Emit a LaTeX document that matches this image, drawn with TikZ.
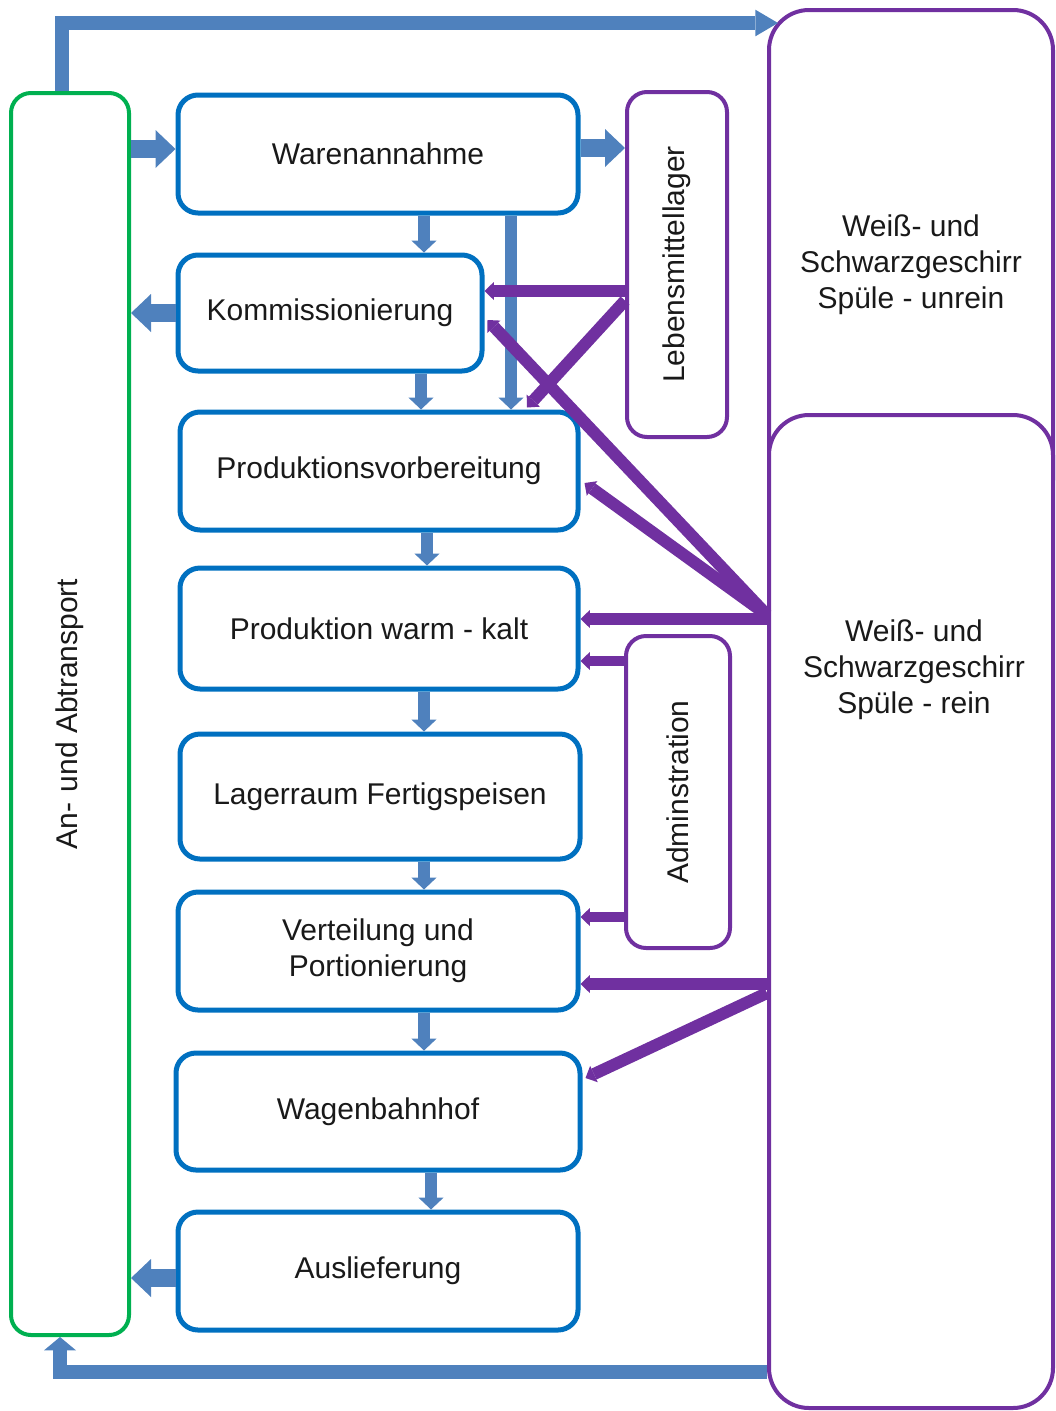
\documentclass[tikz,border=0pt]{standalone}
\usepackage{fontspec}
\setmainfont{Liberation Sans}
\usetikzlibrary{arrows.meta,calc}
\definecolor{boxblue}{RGB}{0,112,192}
\definecolor{arrblue}{RGB}{79,129,189}
\definecolor{vio}{RGB}{112,48,160}
\definecolor{grn}{RGB}{0,176,80}
\definecolor{txt}{RGB}{25,25,25}
\begin{document}
\begin{tikzpicture}[x=0.75pt,y=-0.75pt,
  every node/.style={font=\fontsize{22.5}{27}\selectfont, text=txt, inner sep=0pt, align=center},
  bbox/.style={draw=boxblue, line width=3.75pt, rounded corners=15pt},
  pbox/.style={draw=vio, line width=3pt, rounded corners=15pt},
  bigbox/.style={draw=vio, line width=3pt, rounded corners=30pt},
  gbox/.style={draw=grn, line width=3pt, rounded corners=15pt},
  smallarr/.style={draw=arrblue, line width=9pt, -{Triangle[width=19pt,length=9pt,line width=0pt]}},
  sidearr/.style={draw=arrblue, line width=13.5pt, -{Triangle[width=28.5pt,length=15pt,line width=0pt]}},
  pline/.style={draw=vio, line width=9pt, -{Triangle[width=13.5pt,length=7pt,line width=0pt]}},
]
\useasboundingbox (0,0) rectangle (1056,1411);

% boxes
\node[gbox, minimum width=88.5pt, minimum height=931.5pt] (aa) at (70,714) {\rotatebox{90}{An-\hspace{0.35em}und Abtransport}};

\node[bbox, minimum width=300pt, minimum height=88.5pt] (wa) at (378,154) {Warenannahme};
\node[bbox, minimum width=228pt, minimum height=87pt] (ko) at (330,313) {Kommissionierung};
\node[bbox, minimum width=298.5pt, minimum height=88.5pt] (pv) at (379,471) {Produktionsvorbereitung};
\node[bbox, minimum width=298.5pt, minimum height=90.75pt] (pw) at (379,628.5) {Produktion warm - kalt};
\node[bbox, minimum width=300pt, minimum height=93.75pt] (lf) at (380,796.5) {Lagerraum Fertigspeisen};
\node[bbox, minimum width=300pt, minimum height=88.5pt] (vp) at (378,951) {\raisebox{-5pt}{\begin{tabular}{@{}c@{}}Verteilung und\\Portionierung\end{tabular}}};
\node[bbox, minimum width=303pt, minimum height=87.75pt] (wb) at (378,1111.5) {Wagenbahnhof};
\node[bbox, minimum width=300pt, minimum height=88.5pt] (al) at (378,1271) {Auslieferung};

\node[pbox, minimum width=75pt, minimum height=258.75pt] (lm) at (677,264.5) {\rotatebox{90}{Lebensmittellager}};
\node[pbox, minimum width=78pt, minimum height=234pt] (ad) at (678,792) {\rotatebox{90}{Adminstration}};

\node[bigbox, minimum width=213pt, minimum height=382.5pt] (ur) at (911,265) {Weiß- und\\Schwarzgeschirr\\Spüle - unrein};
\node[bigbox, fill=white, minimum width=213pt, minimum height=744.75pt] (rn) at (911,911.5) {};
\node (rt) at (914,670) {Weiß- und\\Schwarzgeschirr\\Spüle - rein};

% blue flow arrows
\draw[smallarr] ($(wa.south)+(46,0)$) -- ($(ko.north)+(94,0)$);
\draw[smallarr] ($(wa.south)+(133,0)$) -- ($(pv.north)+(132,0)$);
\draw[smallarr] ($(ko.south)+(91,0)$) -- ($(pv.north)+(42,0)$);
\draw[smallarr] ($(pv.south)+(48,0)$) -- ($(pw.north)+(48,0)$);
\draw[smallarr] ($(pw.south)+(45,0)$) -- ($(lf.north)+(44,0)$);
\draw[smallarr] ($(lf.south)+(44,0)$) -- ($(vp.north)+(46,0)$);
\draw[smallarr] ($(vp.south)+(46,0)$) -- ($(wb.north)+(46,0)$);
\draw[smallarr] ($(wb.south)+(53,0)$) -- ($(al.north)+(53,0)$);

\draw[sidearr] ($(aa.east|-wa.west)+(0,-5)$) -- ($(wa.west)+(0,-5)$);
\draw[sidearr] ($(wa.east)+(0,-6)$) -- ($(lm.west|-wa.east)+(0,-6)$);
\draw[sidearr] (ko.west) -- (aa.east|-ko.west);
\draw[sidearr] ($(al.west)+(0,7)$) -- ($(aa.east|-al.west)+(0,7)$);

\draw[draw=arrblue, line width=11pt, line join=miter, -{Triangle[width=20pt,length=17pt,line width=0pt]}]
  ($(aa.north)+(-8,0)$) |- ($(ur.north west)+(11,15)$);
\draw[draw=arrblue, line width=11pt, line join=miter, -{Triangle[width=24pt,length=10pt,line width=0pt]}]
  ($(rn.south west)+(0,-38)$) -| ($(aa.south)+(-10,0)$);

% purple connectors
\draw[pline] ($(lm.west)+(0,26.5)$) -- ($(ko.east|-lm.west)+(0,26.5)$);
\draw[pline] ($(lm.west)+(0,36)$) -- ($(pv.north)+(148,-2)$);
\draw[pline] ($(rn.north west)+(0,202)$) -- ($(ko.east)+(3,7)$);
\draw[pline] ($(rn.north west)+(0,202)$) -- ($(pv.east)+(4,12)$);
\draw[pline] ($(rn.north west)+(0,206)$) -- ($(pw.east|-rn.north west)+(0,206)$);
\draw[pline, line width=8pt] ($(ad.west)+(0,-131)$) -- ($(pw.east|-ad.west)+(0,-131)$);
\draw[pline, line width=8pt] ($(ad.west)+(0,125)$) -- ($(vp.east|-ad.west)+(0,125)$);
\draw[pline] ($(rn.north west)+(0,571)$) -- ($(vp.east|-rn.north west)+(0,571)$);
\draw[pline] ($(rn.north west)+(0,580)$) -- ($(wb.east)+(3,-33.5)$);
\end{tikzpicture}
\end{document}
